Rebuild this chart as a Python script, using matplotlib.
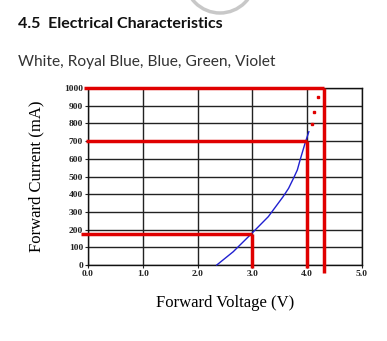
import numpy as np
import matplotlib.pyplot as plt
from matplotlib.patches import Arc

# curve
voltage = [2.35, 2.65, 2.99, 3.29, 3.56, 3.66, 3.75, 3.82, 3.87, 3.96, 4.03]
current = [0, 75, 179, 273, 386, 433, 490, 537, 593, 687, 753]

# red marker lines (current level, voltage)
ref_currents = [1000, 700, 175]
ref_voltages = [4.3, 4.0, 3.0]
dot_v = [4.2, 4.13, 4.08]
dot_i = [947, 863, 795]

xticks = [0, 1, 2, 3, 4, 5]
yticks = list(range(0, 1001, 100))

fig = plt.figure(figsize=(3.87, 3.41), dpi=100)
ax = fig.add_axes([88/387, 76/341, 274/387, 177/341])

ax.set_xlim(0, 5)
ax.set_ylim(0, 1000)
ax.set_xticks(xticks)
ax.set_xticklabels([f'{x:.1f}' for x in xticks])
ax.set_yticks(yticks)
ax.set_yticklabels([str(y) for y in yticks])
for lab in ax.get_xticklabels() + ax.get_yticklabels():
    lab.set_fontfamily('Liberation Serif')
    lab.set_fontweight('bold')
    lab.set_fontsize(6.8)
ax.tick_params(length=2, width=0.8, pad=1.5, colors='#222222')
ax.grid(True, color='#222222', linewidth=1.0)
ax.set_axisbelow(True)
for s in ax.spines.values():
    s.set_linewidth(1.0)
    s.set_color('#111111')

ax.plot(voltage, current, color='#2020d0', linewidth=1.0, clip_on=False, zorder=3)

red = '#e00000'
starts = [-0.07, -0.04, -0.13]
ends = [-45, -17, -17]
for c, v, x0, y_end in zip(ref_currents, ref_voltages, starts, ends):
    ax.plot([x0, v], [c, c], color=red, linewidth=2.5, clip_on=False, zorder=4, solid_capstyle='butt')
    ax.plot([v, v], [c, y_end], color=red, linewidth=2.5, clip_on=False, zorder=4, solid_capstyle='butt')
ax.plot(dot_v, dot_i, 's', color=red, markersize=1.8, clip_on=False, zorder=4)

ax.set_ylabel('Forward Current (mA)', fontfamily='Liberation Serif', fontsize=12, labelpad=14)
ax.set_xlabel('Forward Voltage (V)', fontfamily='Liberation Serif', fontsize=12, labelpad=12)

fig.text(18/387, 1 - 28/341, '4.5  Electrical Characteristics', fontfamily='Lato',
         fontweight='bold', fontsize=11.5, color='#111111', va='baseline')
fig.text(18/387, 1 - 66/341, 'White, Royal Blue, Blue, Green, Violet', fontfamily='Lato',
         fontsize=11.2, color='#333333', va='baseline')

# faint circle piece at the top
arc = Arc((220/387, 1 + 22/341), 70/387, 70/341, theta1=180, theta2=360,
          transform=fig.transFigure, color='#c8c8c8', linewidth=2.5)
fig.add_artist(arc)

fig.savefig('out.png', dpi=100)
